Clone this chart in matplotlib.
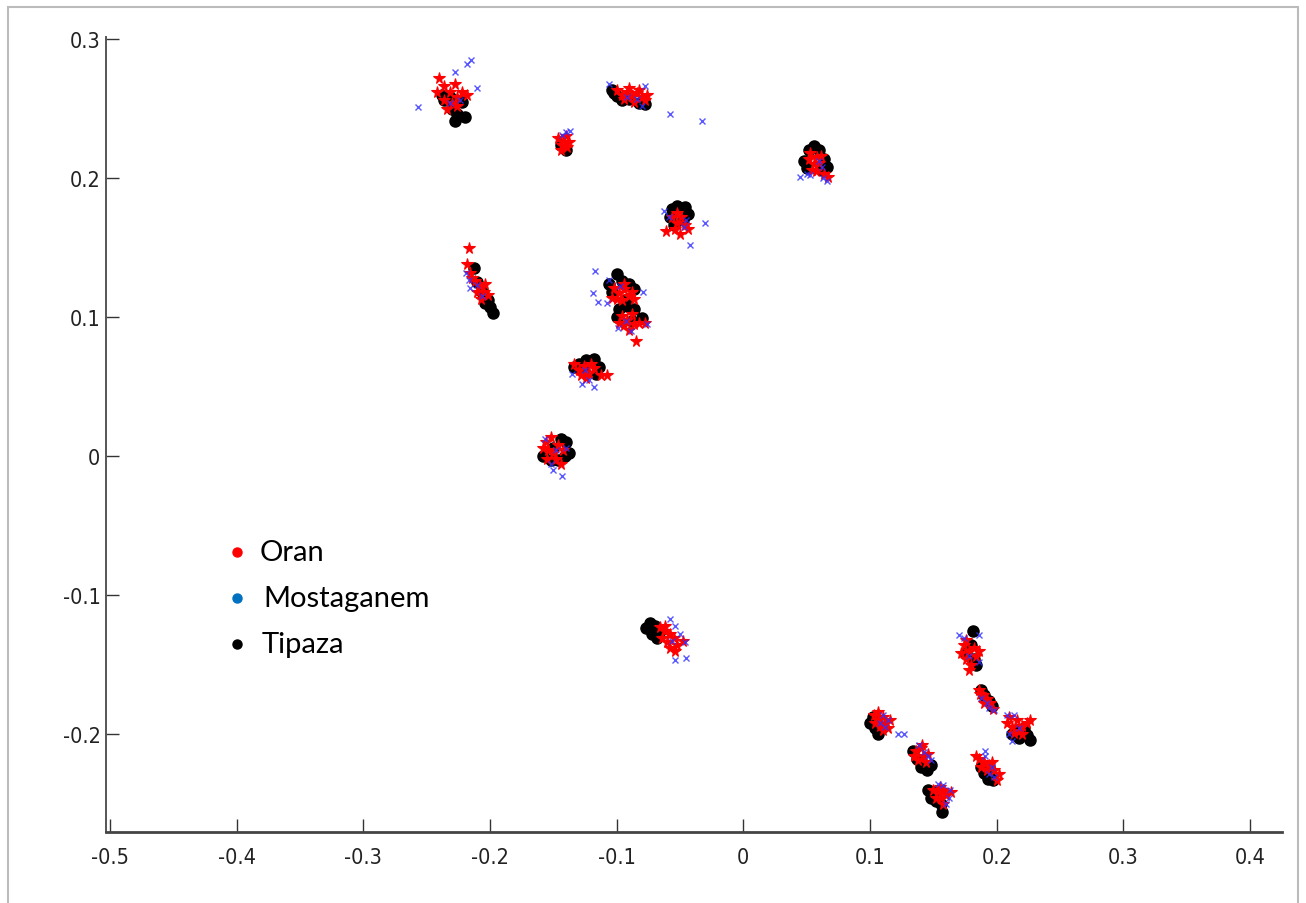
import numpy as np
import matplotlib
matplotlib.use("Agg")
import matplotlib.pyplot as plt
from matplotlib.patches import Rectangle
from matplotlib import font_manager

# points, one line per cluster
oran_pts = [
    (-0.240, 0.272), (-0.236, 0.266), (-0.232, 0.262), (-0.228, 0.268), (-0.226, 0.258), (-0.230, 0.254),
    (-0.236, 0.256), (-0.222, 0.262), (-0.218, 0.260), (-0.234, 0.250), (-0.226, 0.252), (-0.242, 0.262),
    (-0.146, 0.229), (-0.142, 0.226), (-0.139, 0.222), (-0.144, 0.220), (-0.140, 0.230), (-0.143, 0.224), (-0.138, 0.226),
    (-0.100, 0.263), (-0.096, 0.260), (-0.092, 0.262), (-0.088, 0.259), (-0.084, 0.261), (-0.080, 0.258),
    (-0.076, 0.260), (-0.094, 0.257), (-0.086, 0.255), (-0.078, 0.256), (-0.090, 0.265), (-0.082, 0.263),
    (0.052, 0.214), (0.056, 0.210), (0.058, 0.215), (0.054, 0.206), (0.060, 0.211), (0.064, 0.203),
    (0.067, 0.201), (0.057, 0.205), (0.053, 0.218), (0.061, 0.216),
    (-0.056, 0.172), (-0.052, 0.168), (-0.049, 0.172), (-0.046, 0.166), (-0.054, 0.163), (-0.050, 0.160),
    (-0.061, 0.162), (-0.044, 0.163), (-0.052, 0.175),
    (-0.217, 0.150), (-0.218, 0.138), (-0.216, 0.132), (-0.212, 0.126), (-0.208, 0.122), (-0.205, 0.118),
    (-0.210, 0.118), (-0.204, 0.124), (-0.214, 0.128), (-0.207, 0.113), (-0.202, 0.116),
    (-0.102, 0.121), (-0.098, 0.117), (-0.094, 0.120), (-0.100, 0.113), (-0.096, 0.112), (-0.090, 0.115),
    (-0.088, 0.118), (-0.094, 0.124), (-0.104, 0.114), (-0.086, 0.113),
    (-0.096, 0.101), (-0.092, 0.098), (-0.088, 0.102), (-0.094, 0.094), (-0.086, 0.095), (-0.082, 0.096),
    (-0.098, 0.096), (-0.090, 0.091), (-0.085, 0.083), (-0.078, 0.096),
    (-0.134, 0.066), (-0.130, 0.062), (-0.126, 0.065), (-0.122, 0.060), (-0.118, 0.063), (-0.112, 0.058),
    (-0.108, 0.058), (-0.128, 0.058), (-0.120, 0.066), (-0.124, 0.056),
    (-0.156, 0.010), (-0.152, 0.014), (-0.150, 0.002), (-0.146, 0.008), (-0.154, 0.004), (-0.158, 0.006),
    (-0.148, -0.002), (-0.144, -0.006), (-0.142, 0.004), (-0.155, -0.002),
    (-0.066, -0.123), (-0.062, -0.126), (-0.058, -0.128), (-0.064, -0.131), (-0.060, -0.134), (-0.055, -0.131),
    (-0.052, -0.136), (-0.058, -0.138), (-0.054, -0.140), (-0.062, -0.122), (-0.048, -0.133),
    (0.174, -0.136), (0.178, -0.140), (0.182, -0.138), (0.176, -0.146), (0.180, -0.150), (0.172, -0.142),
    (0.184, -0.144), (0.178, -0.154), (0.176, -0.132), (0.186, -0.140),
    (0.186, -0.168), (0.189, -0.172), (0.192, -0.175), (0.195, -0.178), (0.190, -0.178), (0.187, -0.171), (0.197, -0.182),
    (0.208, -0.192), (0.212, -0.195), (0.216, -0.190), (0.220, -0.194), (0.214, -0.199), (0.218, -0.198),
    (0.224, -0.192), (0.226, -0.190), (0.210, -0.188), (0.220, -0.200),
    (0.103, -0.186), (0.106, -0.190), (0.110, -0.188), (0.108, -0.194), (0.112, -0.192), (0.114, -0.196),
    (0.104, -0.192), (0.110, -0.197), (0.116, -0.190), (0.106, -0.184),
    (0.136, -0.212), (0.140, -0.210), (0.142, -0.216), (0.138, -0.219), (0.144, -0.220), (0.146, -0.214),
    (0.141, -0.208), (0.135, -0.216),
    (0.186, -0.218), (0.190, -0.220), (0.194, -0.222), (0.192, -0.226), (0.198, -0.226), (0.196, -0.220),
    (0.188, -0.224), (0.200, -0.233), (0.202, -0.229), (0.184, -0.216),
    (0.150, -0.240), (0.154, -0.242), (0.158, -0.240), (0.152, -0.246), (0.156, -0.246), (0.160, -0.244),
    (0.164, -0.242), (0.155, -0.238), (0.158, -0.250),
]

mostaganem_pts = [
    (-0.257, 0.251), (-0.218, 0.282), (-0.215, 0.285), (-0.210, 0.265), (-0.228, 0.276), (-0.232, 0.254), (-0.224, 0.256),
    (-0.140, 0.233), (-0.137, 0.234), (-0.143, 0.231),
    (-0.106, 0.268), (-0.078, 0.266), (-0.058, 0.246), (-0.033, 0.241), (-0.092, 0.258), (-0.084, 0.257), (-0.080, 0.252),
    (0.045, 0.201), (0.050, 0.203), (0.053, 0.202), (0.060, 0.212), (0.063, 0.200), (0.066, 0.198), (0.062, 0.208),
    (-0.063, 0.176), (-0.030, 0.168), (-0.042, 0.152), (-0.059, 0.172), (-0.047, 0.165), (-0.045, 0.170),
    (-0.219, 0.132), (-0.217, 0.127), (-0.216, 0.121), (-0.210, 0.123), (-0.206, 0.115),
    (-0.117, 0.133), (-0.119, 0.117), (-0.115, 0.111), (-0.108, 0.110), (-0.079, 0.118), (-0.106, 0.127), (-0.097, 0.122),
    (-0.099, 0.092), (-0.076, 0.095), (-0.089, 0.090), (-0.093, 0.097),
    (-0.135, 0.059), (-0.127, 0.052), (-0.118, 0.050), (-0.122, 0.055), (-0.125, 0.062),
    (-0.152, -0.006), (-0.150, -0.010), (-0.143, -0.014), (-0.148, 0.004), (-0.140, 0.006), (-0.157, 0.012),
    (-0.058, -0.117), (-0.054, -0.122), (-0.050, -0.128), (-0.046, -0.134), (-0.054, -0.147), (-0.045, -0.145), (-0.056, -0.133),
    (0.170, -0.129), (0.186, -0.129), (0.186, -0.148), (0.178, -0.144), (0.174, -0.131),
    (0.188, -0.174), (0.194, -0.181), (0.198, -0.183), (0.192, -0.178),
    (0.208, -0.186), (0.214, -0.186), (0.212, -0.205), (0.218, -0.196), (0.210, -0.200),
    (0.110, -0.186), (0.114, -0.190), (0.122, -0.200), (0.112, -0.195), (0.108, -0.192), (0.127, -0.200),
    (0.139, -0.208), (0.146, -0.216), (0.148, -0.219), (0.143, -0.213),
    (0.191, -0.212), (0.191, -0.216), (0.194, -0.229), (0.198, -0.231), (0.196, -0.224),
    (0.154, -0.236), (0.158, -0.237), (0.162, -0.246), (0.160, -0.250), (0.163, -0.240),
]

tipaza_pts = [
    (-0.236, 0.256), (-0.230, 0.250), (-0.226, 0.246), (-0.228, 0.241), (-0.220, 0.244), (-0.232, 0.258),
    (-0.222, 0.255), (-0.238, 0.260),
    (-0.140, 0.220), (-0.144, 0.224),
    (-0.104, 0.263), (-0.100, 0.259), (-0.096, 0.256), (-0.090, 0.257), (-0.082, 0.254), (-0.078, 0.253), (-0.102, 0.261),
    (0.048, 0.212), (0.052, 0.220), (0.056, 0.223), (0.060, 0.220), (0.064, 0.214), (0.066, 0.208), (0.050, 0.207), (0.062, 0.206),
    (-0.056, 0.178), (-0.052, 0.180), (-0.046, 0.179), (-0.044, 0.174), (-0.058, 0.172), (-0.055, 0.166), (-0.048, 0.170),
    (-0.213, 0.135), (-0.210, 0.125), (-0.206, 0.118), (-0.202, 0.112), (-0.200, 0.107), (-0.198, 0.103), (-0.204, 0.110),
    (-0.100, 0.131), (-0.106, 0.124), (-0.096, 0.126), (-0.090, 0.124), (-0.086, 0.120), (-0.104, 0.118), (-0.092, 0.113),
    (-0.098, 0.106), (-0.092, 0.108), (-0.086, 0.106), (-0.080, 0.099), (-0.100, 0.100), (-0.088, 0.097),
    (-0.130, 0.066), (-0.124, 0.069), (-0.118, 0.070), (-0.114, 0.064), (-0.116, 0.059), (-0.126, 0.061), (-0.134, 0.064),
    (-0.158, 0.000), (-0.150, 0.006), (-0.144, 0.012), (-0.140, 0.010), (-0.138, 0.002), (-0.146, -0.003),
    (-0.152, -0.003), (-0.141, 0.000),
    (-0.077, -0.124), (-0.074, -0.120), (-0.070, -0.122), (-0.072, -0.128), (-0.066, -0.126), (-0.068, -0.131),
    (0.181, -0.126), (0.176, -0.142), (0.182, -0.146), (0.180, -0.136), (0.184, -0.150),
    (0.190, -0.172), (0.194, -0.176), (0.196, -0.180), (0.188, -0.168),
    (0.212, -0.200), (0.218, -0.203), (0.224, -0.201), (0.222, -0.196), (0.216, -0.197), (0.226, -0.204),
    (0.102, -0.188), (0.104, -0.196), (0.106, -0.200), (0.100, -0.192), (0.108, -0.194),
    (0.137, -0.218), (0.140, -0.224), (0.145, -0.226), (0.148, -0.222), (0.134, -0.212),
    (0.190, -0.228), (0.193, -0.232), (0.197, -0.233), (0.195, -0.226), (0.188, -0.224),
    (0.146, -0.240), (0.148, -0.246), (0.152, -0.248), (0.156, -0.250), (0.157, -0.256), (0.150, -0.242),
]

legend_labels = ["Oran", "Mostaganem", "Tipaza"]
legend_colors = ["#ff0000", "#0070c0", "#000000"]

xticks = [-0.5, -0.4, -0.3, -0.2, -0.1, 0, 0.1, 0.2, 0.3, 0.4]
yticks = [-0.2, -0.1, 0, 0.1, 0.2, 0.3]

oran = np.array(oran_pts)
most = np.array(mostaganem_pts)
tip = np.array(tipaza_pts)

fig = plt.figure(figsize=(13.06, 9.04), dpi=100)
ax = fig.add_axes([0.0812, 0.0785, 0.9004, 0.8795])

ax.plot(tip[:, 0], tip[:, 1], 'o', color='black', markersize=8, zorder=2)
ax.plot(oran[:, 0], oran[:, 1], '*', color='red', markersize=8.5, markeredgewidth=0.8, zorder=3)
ax.plot(most[:, 0], most[:, 1], 'x', color='#3030ff', markersize=4.5, markeredgewidth=1.0, alpha=0.8, zorder=4)

ax.set_xlim(-0.5032, 0.4253)
ax.set_ylim(-0.2705, 0.3015)
ax.set_xticks(xticks)
ax.set_yticks(yticks)
ax.set_xticklabels([f"{t:g}" for t in xticks])
ax.set_yticklabels([f"{t:g}" for t in yticks])

for s in ['top', 'right']:
    ax.spines[s].set_visible(False)
ax.spines['left'].set_color('#555555')
ax.spines['left'].set_linewidth(1.4)
ax.spines['bottom'].set_color('#444444')
ax.spines['bottom'].set_linewidth(2)

# narrow font for the tick labels if one is around
names = {f.name for f in font_manager.fontManager.ttflist}
if 'Liberation Sans Narrow' in names:
    tick_prop = dict(family='Liberation Sans Narrow')
else:
    tick_prop = dict(family='DejaVu Sans', stretch='condensed')

ax.tick_params(direction='in', length=9.5, width=1, color='#333333')
ax.tick_params(axis='x', pad=11)
ax.tick_params(axis='y', pad=4)
for lab in ax.get_xticklabels() + ax.get_yticklabels():
    lab.set_fontproperties(font_manager.FontProperties(size=15.5, **tick_prop))
    lab.set_color('#222222')

# hand-made legend
leg_y = [0.388, 0.337, 0.2865]
leg_tx = [260, 263, 262]
for lab, col, yy, tx in zip(legend_labels, legend_colors, leg_y, leg_tx):
    fig.lines.append(plt.Line2D([237 / 1306], [yy], marker='o', markersize=6.5, color=col,
                                linestyle='none', transform=fig.transFigure))
    fig.text(tx / 1306, yy, lab, fontsize=21, family=['Lato', 'DejaVu Sans'],
             va='center', ha='left', color='black')

# picture frame
fig.patches.append(Rectangle((8 / 1306, -0.02), 1290 / 1306, 0.02 + 896 / 904, transform=fig.transFigure,
                             fill=False, edgecolor='#bbbbbb', linewidth=1.5))

fig.savefig('out.png', dpi=100)
